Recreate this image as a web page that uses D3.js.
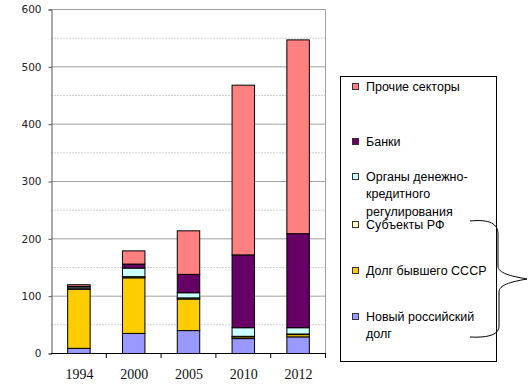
<!DOCTYPE html>
<html>
<head>
<meta charset="utf-8">
<script src="https://cdn.jsdelivr.net/npm/d3@7"></script>
<style>
  body { margin: 0; background: #fff; }
</style>
</head>
<body>
<div id="container"></div>
<script>
// chart size
const width = 532;
const height = 391;

// data (bottom to top)
const years = ["1994", "2000", "2005", "2010", "2012"];
const novyiDolg = [9, 35, 40, 26, 29];
const dolgSSSR = [103, 97, 55, 3, 4];
const subektyRF = [1, 2, 2, 1, 1];
const organyDKR = [3, 15, 9, 15, 11];
const banki = [1, 7, 32, 127, 164];
const prochie = [3, 23, 76, 296, 338];
const yTicks = [0, 100, 200, 300, 400, 500, 600];

const seriesKeys = ["novyi", "sssr", "subekty", "organy", "banki", "prochie"];
const seriesNames = {
    prochie: ["Прочие секторы"],
    banki: ["Банки"],
    organy: ["Органы денежно-", "кредитного", "регулирования"],
    subekty: ["Субъекты РФ"],
    sssr: ["Долг бывшего СССР"],
    novyi: ["Новый российский", "долг"]
};
const colors = {
    novyi: "#9999ff",
    sssr: "#ffcc00",
    subekty: "#ffffcc",
    organy: "#ccffff",
    banki: "#660066",
    prochie: "#ff8080"
};

// build rows for d3.stack
const rows = years.map((y, i) => ({
    year: y,
    novyi: novyiDolg[i],
    sssr: dolgSSSR[i],
    subekty: subektyRF[i],
    organy: organyDKR[i],
    banki: banki[i],
    prochie: prochie[i]
}));

const svg = d3.select("#container")
    .append("svg")
    .attr("width", width)
    .attr("height", height)
    .style("display", "block");

const plotLeft = 51, plotRight = 325, plotTop = 9, plotBottom = 353;

const x = d3.scaleBand()
    .domain(years)
    .range([plotLeft, plotRight])
    .paddingInner(0.59)
    .paddingOuter(0.295);

const y = d3.scaleLinear()
    .domain([0, 600])
    .range([plotBottom, plotTop]);

// minor gridlines (every 50)
svg.append("g")
    .selectAll("line")
    .data(d3.range(50, 600, 100))
    .enter()
    .append("line")
    .attr("x1", plotLeft)
    .attr("x2", plotRight)
    .attr("y1", d => y(d) + 0.5)
    .attr("y2", d => y(d) + 0.5)
    .attr("stroke", "#d0d0d0")
    .attr("stroke-dasharray", "2,1");

// major gridlines
svg.append("g")
    .selectAll("line")
    .data(yTicks.filter(d => d > 0))
    .enter()
    .append("line")
    .attr("x1", plotLeft)
    .attr("x2", plotRight)
    .attr("y1", d => y(d) + 0.5)
    .attr("y2", d => y(d) + 0.5)
    .attr("stroke", "#a0a0a0");

// right border of plot area
svg.append("line")
    .attr("x1", plotRight + 0.5)
    .attr("x2", plotRight + 0.5)
    .attr("y1", plotTop)
    .attr("y2", plotBottom)
    .attr("stroke", "#a0a0a0");

// stacked bars
const stack = d3.stack().keys(seriesKeys);
const stacked = stack(rows);

svg.append("g")
    .selectAll("g")
    .data(stacked)
    .enter()
    .append("g")
    .attr("fill", d => colors[d.key])
    .selectAll("rect")
    .data(d => d)
    .enter()
    .append("rect")
    .attr("x", d => x(d.data.year) + 0.5)
    .attr("y", d => y(d[1]) + 0.5)
    .attr("width", x.bandwidth())
    .attr("height", d => y(d[0]) - y(d[1]))
    .attr("stroke", "#000")
    .attr("stroke-width", 1);

// y axis
const yAxis = svg.append("g")
    .attr("transform", `translate(${plotLeft + 0.5},0.5)`)
    .call(d3.axisLeft(y).tickValues(yTicks).tickSize(3).tickPadding(7));
yAxis.select(".domain").attr("stroke", "#555");
yAxis.selectAll(".tick line").attr("stroke", "#555");
yAxis.selectAll("text")
    .attr("font-family", "DejaVu Sans, Verdana, sans-serif")
    .attr("font-size", "10.5px")
    .attr("fill", "#222");

// x axis baseline and ticks between categories
const step = x.step();
svg.append("line")
    .attr("x1", plotLeft)
    .attr("x2", plotRight + 1)
    .attr("y1", plotBottom + 0.5)
    .attr("y2", plotBottom + 0.5)
    .attr("stroke", "#000");

svg.append("g")
    .selectAll("line")
    .data(years)
    .enter()
    .append("line")
    .attr("x1", d => x(d) + x.bandwidth() / 2 + step / 2 + 0.5)
    .attr("x2", d => x(d) + x.bandwidth() / 2 + step / 2 + 0.5)
    .attr("y1", plotBottom)
    .attr("y2", plotBottom + 5)
    .attr("stroke", "#000");

svg.append("g")
    .selectAll("text")
    .data(years)
    .enter()
    .append("text")
    .attr("x", d => x(d) + x.bandwidth() / 2 + 1)
    .attr("y", 379)
    .attr("text-anchor", "middle")
    .attr("font-family", "Liberation Serif, Times New Roman, serif")
    .attr("font-size", "14px")
    .attr("fill", "#111")
    .text(d => d);

// legend
svg.append("rect")
    .attr("x", 340.5)
    .attr("y", 76.5)
    .attr("width", 156)
    .attr("height", 285)
    .attr("fill", "#fff")
    .attr("stroke", "#000");

const legendOrder = ["prochie", "banki", "organy", "subekty", "sssr", "novyi"];
const legendY = { prochie: 87, banki: 142, organy: 177, subekty: 225, sssr: 271, novyi: 317 };

const legend = svg.append("g")
    .selectAll("g")
    .data(legendOrder)
    .enter()
    .append("g")
    .attr("transform", d => `translate(0,${legendY[d]})`);

legend.append("rect")
    .attr("x", 352.5)
    .attr("y", -3.5)
    .attr("width", 6)
    .attr("height", 6)
    .attr("fill", d => colors[d])
    .attr("stroke", "#333");

legend.append("text")
    .attr("font-family", "Liberation Sans, Arial, sans-serif")
    .attr("font-size", "12.5px")
    .attr("fill", "#000")
    .selectAll("tspan")
    .data(d => seriesNames[d])
    .enter()
    .append("tspan")
    .attr("x", 366)
    .attr("y", (d, i) => i * 17.3 + 4)
    .text(d => d);

// curly brace next to the legend
svg.append("path")
    .attr("d", "M470,221 C490,219 498,224 498,234 L498,266 C498,273 510,276 527,279 C510,282 499,285 499,292 L499,326 C499,334 490,338 470,337")
    .attr("fill", "none")
    .attr("stroke", "#000")
    .attr("stroke-width", 1);
</script>
</body>
</html>
